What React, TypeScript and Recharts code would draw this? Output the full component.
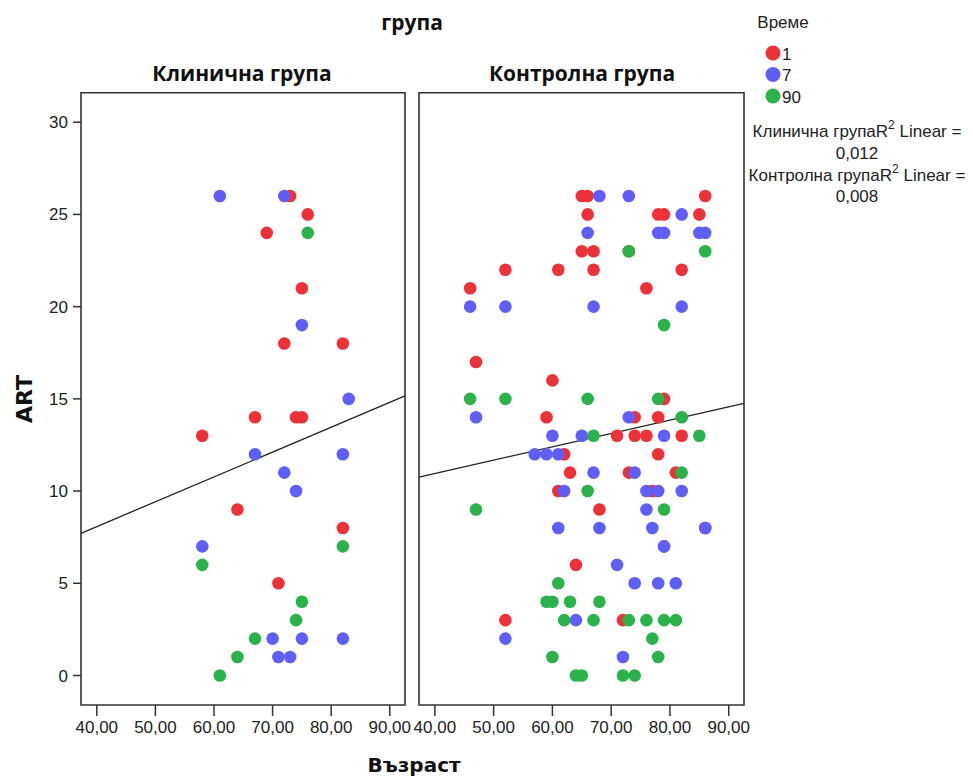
import React from 'react';
import { ScatterChart, Scatter, XAxis, YAxis, ReferenceArea, ReferenceLine } from 'recharts';

type P = { age: number; art: number };

const xTicks = [40, 50, 60, 70, 80, 90];
const yTicks = [0, 5, 10, 15, 20, 25, 30];
const xDomain: [number, number] = [37.3, 92.6];
const yDomain: [number, number] = [-1.6, 31.6];

const panelTitles = ['Клинична група', 'Контролна група'];
const legendLabels = ['1', '7', '90'];
const r2Values = ['0,012', '0,008'];

const clinicalT1: P[] = [
  { age: 73, art: 26 }, { age: 76, art: 25 }, { age: 69, art: 24 }, { age: 75, art: 21 },
  { age: 72, art: 18 }, { age: 82, art: 18 }, { age: 67, art: 14 }, { age: 74, art: 14 },
  { age: 75, art: 14 }, { age: 58, art: 13 }, { age: 64, art: 9 }, { age: 82, art: 8 },
  { age: 71, art: 5 },
];
const clinicalT7: P[] = [
  { age: 61, art: 26 }, { age: 72, art: 26 }, { age: 75, art: 19 }, { age: 83, art: 15 },
  { age: 67, art: 12 }, { age: 82, art: 12 }, { age: 72, art: 11 }, { age: 74, art: 10 },
  { age: 58, art: 7 }, { age: 70, art: 2 }, { age: 75, art: 2 }, { age: 82, art: 2 },
  { age: 71, art: 1 }, { age: 73, art: 1 },
];
const clinicalT90: P[] = [
  { age: 76, art: 24 }, { age: 82, art: 7 }, { age: 58, art: 6 }, { age: 75, art: 4 },
  { age: 74, art: 3 }, { age: 67, art: 2 }, { age: 64, art: 1 }, { age: 61, art: 0 },
];
const clinicalFit: P[] = [{ age: 37.3, art: 7.71 }, { age: 92.6, art: 15.16 }];

const controlT1: P[] = [
  { age: 65, art: 26 }, { age: 66, art: 26 }, { age: 86, art: 26 }, { age: 66, art: 25 },
  { age: 78, art: 25 }, { age: 79, art: 25 }, { age: 85, art: 25 }, { age: 65, art: 23 },
  { age: 67, art: 23 }, { age: 73, art: 23 }, { age: 52, art: 22 }, { age: 61, art: 22 },
  { age: 67, art: 22 }, { age: 82, art: 22 }, { age: 46, art: 21 }, { age: 76, art: 21 },
  { age: 47, art: 17 }, { age: 60, art: 16 }, { age: 79, art: 15 }, { age: 59, art: 14 },
  { age: 74, art: 14 }, { age: 78, art: 14 }, { age: 71, art: 13 }, { age: 74, art: 13 },
  { age: 76, art: 13 }, { age: 82, art: 13 }, { age: 62, art: 12 }, { age: 78, art: 12 },
  { age: 63, art: 11 }, { age: 73, art: 11 }, { age: 81, art: 11 }, { age: 61, art: 10 },
  { age: 77, art: 10 }, { age: 68, art: 9 }, { age: 86, art: 8 }, { age: 79, art: 7 },
  { age: 64, art: 6 }, { age: 52, art: 3 }, { age: 72, art: 3 },
];
const controlT7: P[] = [
  { age: 68, art: 26 }, { age: 73, art: 26 }, { age: 82, art: 25 }, { age: 66, art: 24 },
  { age: 78, art: 24 }, { age: 79, art: 24 }, { age: 85, art: 24 }, { age: 86, art: 24 },
  { age: 46, art: 20 }, { age: 52, art: 20 }, { age: 67, art: 20 }, { age: 82, art: 20 },
  { age: 47, art: 14 }, { age: 73, art: 14 }, { age: 60, art: 13 }, { age: 65, art: 13 },
  { age: 79, art: 13 }, { age: 57, art: 12 }, { age: 59, art: 12 }, { age: 61, art: 12 },
  { age: 67, art: 11 }, { age: 74, art: 11 }, { age: 62, art: 10 }, { age: 76, art: 10 },
  { age: 78, art: 10 }, { age: 82, art: 10 }, { age: 76, art: 9 }, { age: 61, art: 8 },
  { age: 68, art: 8 }, { age: 77, art: 8 }, { age: 86, art: 8 }, { age: 79, art: 7 },
  { age: 71, art: 6 }, { age: 74, art: 5 }, { age: 78, art: 5 }, { age: 81, art: 5 },
  { age: 64, art: 3 }, { age: 52, art: 2 }, { age: 72, art: 1 },
];
const controlT90: P[] = [
  { age: 73, art: 23 }, { age: 86, art: 23 }, { age: 79, art: 19 }, { age: 46, art: 15 },
  { age: 52, art: 15 }, { age: 66, art: 15 }, { age: 78, art: 15 }, { age: 82, art: 14 },
  { age: 67, art: 13 }, { age: 85, art: 13 }, { age: 82, art: 11 }, { age: 66, art: 10 },
  { age: 47, art: 9 }, { age: 79, art: 9 }, { age: 61, art: 5 }, { age: 59, art: 4 },
  { age: 60, art: 4 }, { age: 63, art: 4 }, { age: 68, art: 4 }, { age: 62, art: 3 },
  { age: 67, art: 3 }, { age: 73, art: 3 }, { age: 76, art: 3 }, { age: 79, art: 3 },
  { age: 81, art: 3 }, { age: 77, art: 2 }, { age: 60, art: 1 }, { age: 78, art: 1 },
  { age: 64, art: 0 }, { age: 65, art: 0 }, { age: 72, art: 0 }, { age: 74, art: 0 },
];
const controlFit: P[] = [{ age: 37.3, art: 10.76 }, { age: 92.6, art: 14.76 }];

const COLORS = ['#EB3238', '#5F5FF7', '#2BB24B'];
const tickFont = { fontFamily: 'Liberation Sans, Arial, sans-serif', fontSize: 17, fill: '#222' };
const fmt = (v: number) => v.toFixed(2).replace('.', ',');

const dot = (color: string) => (props: any) => (
  <circle cx={props.cx} cy={props.cy} r={6.3} fill={color} />
);

function Panel({ series, fit, left, width, marginLeft, marginRight, showY }: any) {
  return (
    <div style={{ position: 'absolute', left, top: 0 }}>
      <ScatterChart
        width={width}
        height={778}
        margin={{ top: 92.7, right: marginRight, bottom: 33, left: marginLeft }}
      >
        <XAxis
          type="number"
          dataKey="age"
          domain={xDomain}
          ticks={xTicks}
          allowDataOverflow
          tickFormatter={fmt}
          axisLine={false}
          tickLine={{ stroke: '#333', strokeWidth: 1.5 }}
          tickSize={11}
          tickMargin={5}
          height={40}
          tick={tickFont}
          interval={0}
        />
        <YAxis
          type="number"
          dataKey="art"
          domain={yDomain}
          ticks={yTicks}
          allowDataOverflow
          hide={!showY}
          axisLine={false}
          tickLine={{ stroke: '#333', strokeWidth: 1.5 }}
          tickSize={8}
          tickMargin={5}
          width={41}
          tick={tickFont}
          interval={0}
        />
        <ReferenceArea
          x1={xDomain[0]}
          x2={xDomain[1]}
          y1={yDomain[0]}
          y2={yDomain[1]}
          fill="none"
          fillOpacity={0}
          stroke="#333"
          strokeWidth={1.6}
          ifOverflow="visible"
        />
        {series.map((d: P[], i: number) => (
          <Scatter key={i} data={d} fill={COLORS[i]} shape={dot(COLORS[i])} isAnimationActive={false} />
        ))}
        <ReferenceLine
          segment={[{ x: fit[0].age, y: fit[0].art }, { x: fit[1].age, y: fit[1].art }]}
          stroke="#222"
          strokeWidth={1.3}
          ifOverflow="visible"
        />
      </ScatterChart>
    </div>
  );
}

export default function App() {
  const titleFont = { fontFamily: 'Open Sans, Liberation Sans, sans-serif', fontWeight: 700, fontSize: 21, fill: '#111' };
  const labelFont = { fontFamily: 'DejaVu Sans, sans-serif', fontWeight: 700, fill: '#111' };
  const textFont = { fontFamily: 'Liberation Sans, Arial, sans-serif', fontSize: 17, fill: '#222' };
  return (
    <div style={{ position: 'absolute', left: 0, top: 0, width: 973, height: 778, background: '#fff' }}>
      <Panel
        series={[clinicalT1, clinicalT7, clinicalT90]}
        fit={clinicalFit}
        left={0}
        width={420}
        marginLeft={40}
        marginRight={15}
        showY
      />
      <Panel
        series={[controlT1, controlT7, controlT90]}
        fit={controlFit}
        left={410}
        width={345}
        marginLeft={9}
        marginRight={11}
        showY={false}
      />
      <svg
        width={973}
        height={778}
        style={{ position: 'absolute', left: 0, top: 0, pointerEvents: 'none' }}
      >
        <text x={412} y={22} textAnchor="middle" dominantBaseline="central" {...titleFont}>група</text>
        <text x={242} y={73} textAnchor="middle" dominantBaseline="central" {...titleFont}>{panelTitles[0]}</text>
        <text x={582} y={73} textAnchor="middle" dominantBaseline="central" {...titleFont}>{panelTitles[1]}</text>
        <text
          x={24}
          y={399}
          textAnchor="middle"
          dominantBaseline="central"
          transform="rotate(-90 24 399)"
          fontSize={22}
          {...labelFont}
        >
          ART
        </text>
        <text x={414} y={765} textAnchor="middle" dominantBaseline="central" fontSize={20} {...labelFont}>Възраст</text>
        <text x={783} y={22} textAnchor="middle" dominantBaseline="central" {...textFont} fontSize={17}>Време</text>
        {legendLabels.map((l, i) => (
          <g key={l}>
            <circle cx={773} cy={53 + i * 21.5} r={7.5} fill={COLORS[i]} />
            <text x={782} y={54 + i * 21.5} dominantBaseline="central" {...textFont}>{l}</text>
          </g>
        ))}
        <text x={857} y={131} textAnchor="middle" dominantBaseline="central" {...textFont}>
          {panelTitles[0]}R<tspan fontSize={12} dy={-6}>2</tspan><tspan dy={6}> Linear =</tspan>
        </text>
        <text x={857} y={153} textAnchor="middle" dominantBaseline="central" {...textFont}>{r2Values[0]}</text>
        <text x={857} y={175} textAnchor="middle" dominantBaseline="central" {...textFont}>
          {panelTitles[1]}R<tspan fontSize={12} dy={-6}>2</tspan><tspan dy={6}> Linear =</tspan>
        </text>
        <text x={857} y={196} textAnchor="middle" dominantBaseline="central" {...textFont}>{r2Values[1]}</text>
      </svg>
    </div>
  );
}
